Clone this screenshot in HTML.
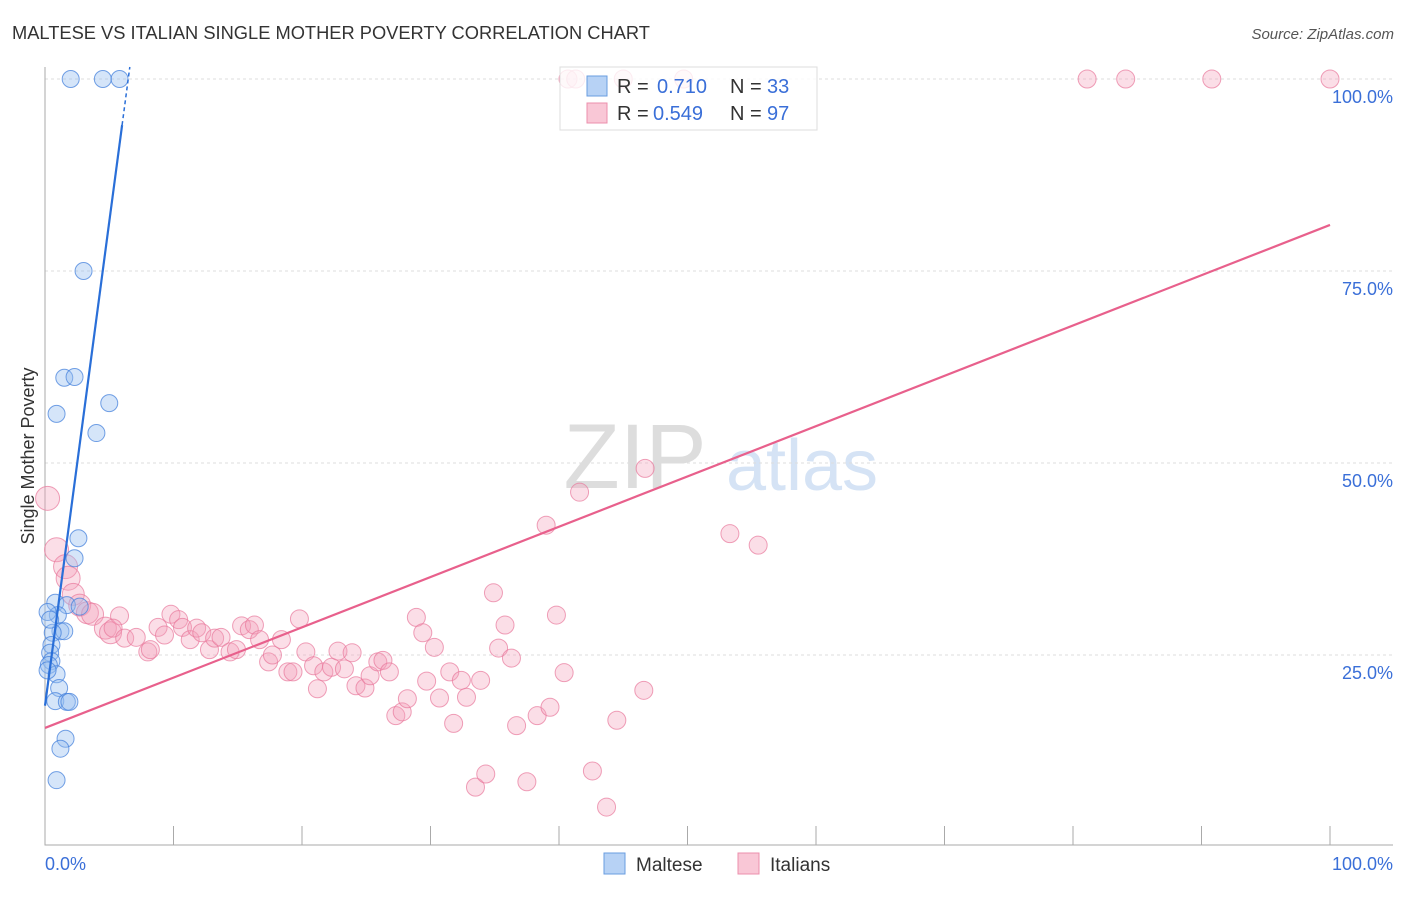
<!DOCTYPE html>
<html><head><meta charset="utf-8"><style>
body{margin:0;background:#fff;font-family:"Liberation Sans",sans-serif}
svg text{font-family:"Liberation Sans",sans-serif}
</style></head><body>
<svg id="chart" width="1406" height="892" viewBox="0 0 1406 892">
<text x="12" y="39" font-size="18.3" fill="#333">MALTESE VS ITALIAN SINGLE MOTHER POVERTY CORRELATION CHART</text>
<text x="1394" y="39" font-size="15" fill="#555" text-anchor="end" font-style="italic">Source: ZipAtlas.com</text>
<g>
<text x="635" y="488" font-size="92" fill="#ddd" font-family="Liberation Serif" text-anchor="middle">ZIP</text>
<text x="802" y="490" font-size="72" fill="#d5e3f5" text-anchor="middle">atlas</text>
</g>
<g id="grid"></g><g id="axes"></g><g id="marks"></g>
<text transform="translate(34,456) rotate(-90)" font-size="18" fill="#333" text-anchor="middle">Single Mother Poverty</text>
<g>
<rect x="560" y="67" width="257" height="63" fill="#fff" fill-opacity="0.8" stroke="#ddd"/>
<rect x="587" y="76" width="20" height="20" fill="#b7d2f5" stroke="#6a9de0"/>
<text x="617" y="93" font-size="20" fill="#333">R = </text><text x="657" y="93" font-size="20" fill="#3a6fd8">0.710</text>
<text x="730" y="93" font-size="20" fill="#333">N = </text><text x="767" y="93" font-size="20" fill="#3a6fd8">33</text>
<rect x="587" y="103" width="20" height="20" fill="#f9c7d6" stroke="#ec8fac"/>
<text x="617" y="120" font-size="20" fill="#333">R = </text><text x="653" y="120" font-size="20" fill="#3a6fd8">0.549</text>
<text x="730" y="120" font-size="20" fill="#333">N = </text><text x="767" y="120" font-size="20" fill="#3a6fd8">97</text>
</g>
<g>
<rect x="604" y="853" width="21" height="21" fill="#b7d2f5" stroke="#6a9de0"/>
<text x="636" y="871" font-size="19" fill="#333">Maltese</text>
<rect x="738" y="853" width="21" height="21" fill="#f9c7d6" stroke="#ec8fac"/>
<text x="770" y="871" font-size="19" fill="#333">Italians</text>
</g>
</svg>
<script>
const maltX=[2.0,4.5,5.8,3.0,1.5,2.3,0.9,5.0,4.0,2.6,2.3,0.8,1.7,2.7,1.0,1.2,1.5,0.6,0.5,0.4,0.5,0.3,0.9,1.1,0.8,1.7,1.9,1.6,1.2,0.9,0.2,0.4,0.2];
const maltY=[100,100,100,75.0,61.1,61.2,56.4,57.8,53.9,40.2,37.6,31.8,31.5,31.3,30.2,28.1,28.1,27.9,26.3,25.3,24.2,23.7,22.5,20.7,19.0,18.9,18.9,14.1,12.8,8.7,30.6,29.6,23.0];
const itX=[0.2,0.9,1.6,1.8,2.2,2.7,3.3,3.7,4.7,5.1,5.8,5.3,6.2,7.1,8.0,8.2,8.8,9.3,9.8,10.4,10.7,11.3,11.8,12.2,12.8,13.2,13.7,14.4,14.9,15.3,15.9,16.3,16.7,17.4,17.7,18.4,18.9,19.3,19.8,20.3,20.9,21.2,21.7,22.3,22.8,23.3,23.9,24.2,24.9,25.3,25.9,26.3,26.8,27.3,27.8,28.2,28.9,29.4,29.7,30.3,30.7,31.5,31.8,32.4,32.8,33.5,33.9,34.3,34.9,35.3,35.8,36.3,36.7,37.5,38.3,39.0,39.3,39.8,40.4,41.6,42.6,43.7,44.5,46.6,46.7,53.3,55.5,40.7,41.3,45.0,49.7,81.1,84.1,90.8,100];
const itY=[45.4,38.7,36.5,35.0,32.9,31.5,30.5,30.3,28.5,27.9,30.1,28.5,27.2,27.3,25.4,25.7,28.6,27.6,30.3,29.6,28.6,27.0,28.5,27.9,25.7,27.2,27.3,25.4,25.7,28.8,28.3,28.9,27.0,24.1,25.0,27.0,22.8,22.8,29.7,25.4,23.6,20.6,22.8,23.4,25.5,23.2,25.3,21.0,20.7,22.3,24.1,24.3,22.8,17.1,17.6,19.3,29.9,27.9,21.6,26.0,19.4,22.8,16.1,21.7,19.5,7.8,21.7,9.5,33.1,25.9,28.9,24.6,15.8,8.5,17.1,41.9,18.2,30.2,22.7,46.2,9.9,5.2,16.5,20.4,49.3,40.8,39.3,100,100,100,100,100,100,100,100];
const maltTrend=[18.4,12.6]; // intercept, slope
const itTrend=[15.5,0.655];
const yTicks=[25,50,75,100];
const xTickLabels=["0.0%","100.0%"];

const X=v=>45+v*12.85, Y=v=>847-v*7.68;
const NS="http://www.w3.org/2000/svg";
function mk(parent,tag,attrs){const e=document.createElementNS(NS,tag);for(const k in attrs)e.setAttribute(k,attrs[k]);document.getElementById(parent).appendChild(e);return e;}
yTicks.forEach(t=>{
 const l=mk('grid','line',{x1:45,x2:1393,y1:Y(t),y2:Y(t),stroke:'#ddd','stroke-dasharray':'3,3'});
 
 
 const tx=mk('grid','text',{x:1393,y:Y(t)+24,'font-size':18,fill:'#3a6fd8','text-anchor':'end'});
 tx.textContent=t.toFixed(1)+'%';
 
 
});
const ax=mk('axes','path',{d:'M45,67V845H1393',stroke:'#aaa',fill:'none'});


for(let i=0;i<=10;i++){
 const t=mk('axes','line',{x1:X(i*10),x2:X(i*10),y1:826,y2:845,stroke:'#aaa'});
 
 
}
[[0,'start',45],[100,'end',1393]].forEach((d,i)=>{
 const tx=mk('axes','text',{x:d[2],y:870,'font-size':18,fill:'#3a6fd8','text-anchor':d[1]});
 tx.textContent=xTickLabels[i];
 
 
});
itX.forEach((x,i)=>{
 const r=i<10?(i<4?12:11):9;
 const c=mk('marks','circle',{cx:X(x),cy:Y(itY[i]),r:r,fill:'rgba(244,160,186,0.35)',stroke:'rgba(232,120,155,0.7)'});
 
 
});
maltX.forEach((x,i)=>{
 const c=mk('marks','circle',{cx:X(x),cy:Y(maltY[i]),r:8.5,fill:'rgba(150,190,240,0.4)',stroke:'rgba(70,130,220,0.75)'});
 
 
});
const it=mk('marks','line',{x1:X(0),y1:Y(itTrend[0]),x2:X(100),y2:Y(itTrend[0]+itTrend[1]*100),stroke:'#e8608c','stroke-width':2.2});


const m1=mk('marks','line',{x1:X(0),y1:Y(maltTrend[0]),x2:X(6.0),y2:Y(maltTrend[0]+maltTrend[1]*6.0),stroke:'#2a6fd8','stroke-width':2.2});


const m2=mk('marks','line',{x1:X(6.0),y1:Y(maltTrend[0]+maltTrend[1]*6.0),x2:X(6.6),y2:Y(maltTrend[0]+maltTrend[1]*6.6),stroke:'#2a6fd8','stroke-width':1.5,'stroke-dasharray':'4,3'});


</script>
</body></html>
